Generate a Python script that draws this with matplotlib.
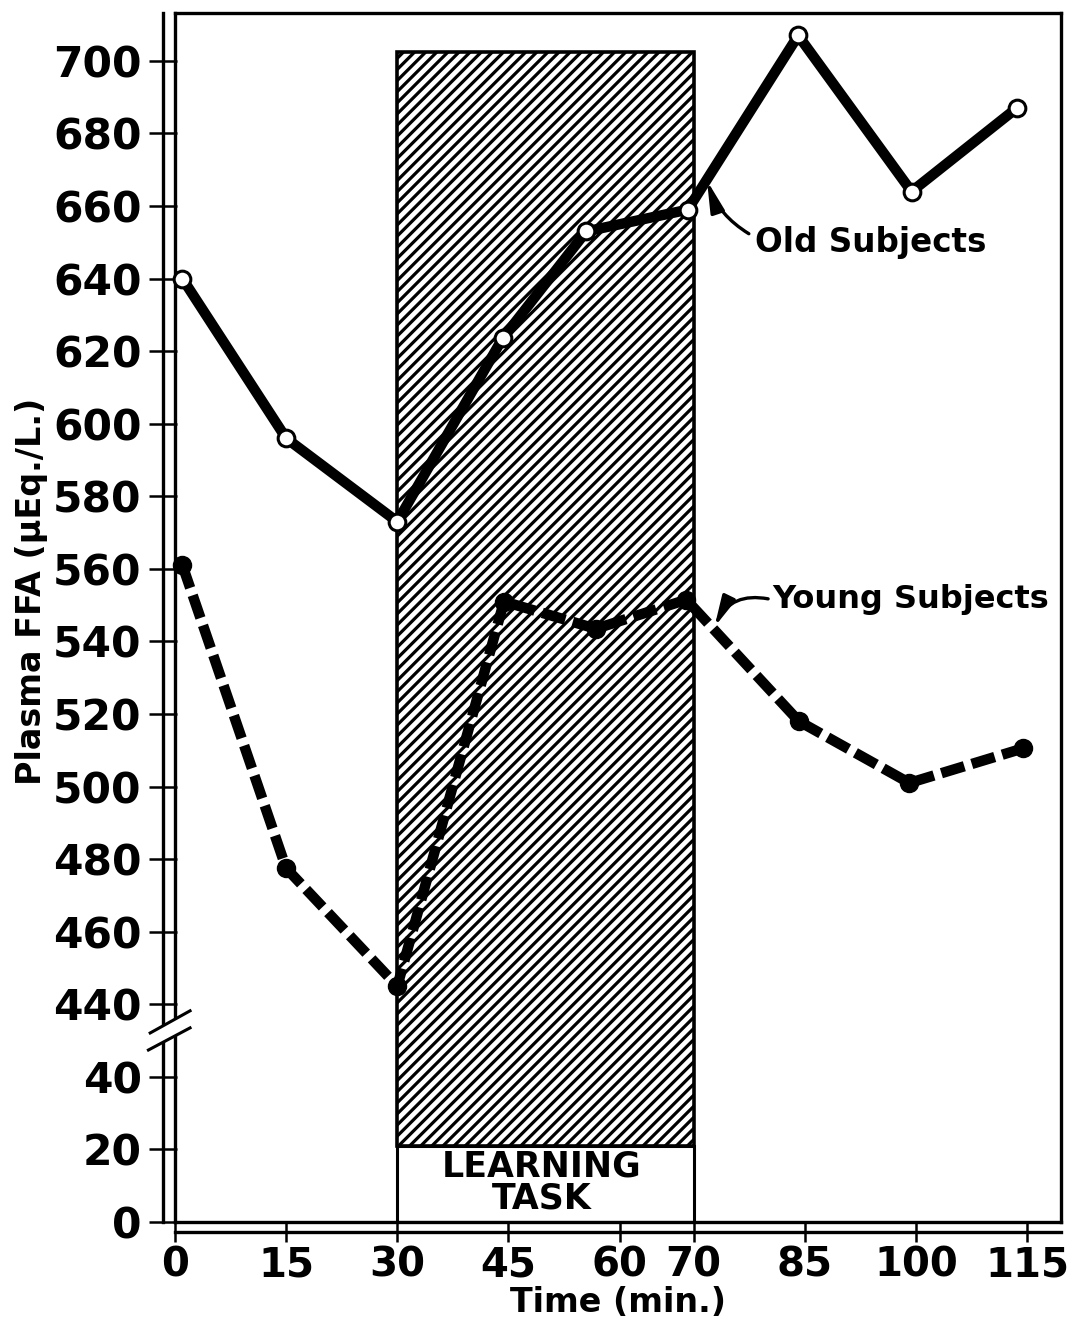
import matplotlib
matplotlib.use("Agg")
import matplotlib.pyplot as plt
from matplotlib.patches import Rectangle, Polygon

# values: time (min.) and plasma FFA (uEq./L.)
old_t = [1, 15, 30, 44.2, 55.5, 69.2, 84.1, 99.4, 113.6]
old_ffa = [640, 596, 573, 623.5, 653, 659, 707, 664, 687]
young_t = [1, 15, 30, 44.4, 56.8, 69, 84.2, 99.1, 114.4]
young_ffa = [561, 477.5, 445, 551, 543.5, 551.5, 518, 501, 510.5]

x_ticks = [0, 15, 30, 45, 60, 70, 85, 100, 115]
y_ticks = [0, 20, 40, 440, 460, 480, 500, 520, 540, 560, 580,
           600, 620, 640, 660, 680, 700]
task_start, task_end = 30, 70
task_top, task_bottom = 702.5, 21

BREAK_LO, BREAK_SHIFT = 40, 380


def fold(v):
    # broken axis: everything above 40 is shifted down by 380
    if isinstance(v, (list, tuple)):
        return [fold(x) for x in v]
    return v if v <= BREAK_LO else v - BREAK_SHIFT


plt.rcParams['hatch.linewidth'] = 2.3
plt.rcParams['font.family'] = 'DejaVu Sans'

fig = plt.figure(figsize=(10.75, 13.25), dpi=100)
ax = fig.add_axes([175 / 1075, 103 / 1325, 885.5 / 1075, 1209 / 1325])
ax.set_xlim(0, 119.5)
ax.set_ylim(0, 333.2)

# learning task block
ax.add_patch(Rectangle((task_start, task_bottom), task_end - task_start,
                       fold(task_top) - task_bottom, facecolor='white',
                       edgecolor='black', hatch='///', lw=2.6, zorder=1))
ax.add_patch(Rectangle((task_start, 0), task_end - task_start, task_bottom,
                       facecolor='white', edgecolor='black', lw=2.2, zorder=1))
ax.text((task_start + task_end) / 2 - 0.5, task_bottom / 2 + 0.5,
        'LEARNING\nTASK', ha='center', va='center', fontsize=25,
        fontweight='bold', linespacing=0.92, zorder=2)

# data
ax.plot(old_t, fold(old_ffa), color='black', lw=7.5, marker='o', ms=12,
        mfc='white', mec='black', mew=2.2, clip_on=False, zorder=5)
ax.plot(young_t, fold(young_ffa), color='black', lw=7.5, dashes=(2.3, 0.75),
        marker='o', ms=13, mfc='black', mec='black', clip_on=False, zorder=5)

# labels with arrows
ax.annotate('Old Subjects', xy=(71.8, fold(667)), xytext=(78.3, fold(650)),
            fontsize=23.5, fontweight='bold', ha='left', va='center',
            arrowprops=dict(arrowstyle='-|>,head_length=0.8,head_width=0.18',
                            color='black', lw=2.4, relpos=(0, 0.65),
                            connectionstyle='arc3,rad=-0.2',
                            shrinkA=3, shrinkB=0), zorder=6)
ax.annotate('Young Subjects', xy=(72.8, fold(544)), xytext=(80.6, fold(551.5)),
            fontsize=23, fontweight='bold', ha='left', va='center',
            arrowprops=dict(arrowstyle='-|>,head_length=0.8,head_width=0.18',
                            color='black', lw=2.4, relpos=(0, 0.5),
                            connectionstyle='arc3,rad=0.4',
                            shrinkA=1, shrinkB=0), zorder=6)

# frame box plus offset axis lines
for s in ['top', 'right', 'left', 'bottom']:
    ax.spines[s].set_linewidth(2.4)
ax.spines['left'].set_position(('outward', 9))
ax.spines['bottom'].set_position(('outward', 7.5))
ax.plot([0, 0], [0, 1], transform=ax.transAxes, color='black', lw=2.4,
        clip_on=False, zorder=3)
ax.plot([0, 1], [0, 0], transform=ax.transAxes, color='black', lw=2.4,
        clip_on=False, zorder=3)

ax.set_xticks(x_ticks)
ax.set_xticklabels([str(t) for t in x_ticks], fontweight='bold')
ax.set_yticks(fold(y_ticks))
ax.set_yticklabels([str(v) for v in y_ticks], fontweight='bold')
ax.tick_params(axis='y', direction='inout', length=20, width=1.8, pad=5,
               labelsize=30.5)
ax.tick_params(axis='x', direction='inout', length=15, width=1.8, pad=2,
               labelsize=29)

ax.set_xlabel('Time (min.)', fontsize=24, fontweight='bold', labelpad=0)
ax.set_ylabel('Plasma FFA (\u03bcEq./L.)', fontsize=24, fontweight='bold')
ax.yaxis.set_label_coords(-0.143, 0.522)

# axis break marks
ytr = ax.get_yaxis_transform()
ax.add_patch(Polygon([(-0.030, 47.4), (0.017, 53.5), (0.017, 58.2),
                      (-0.028, 52.1)], closed=True, transform=ytr,
                     facecolor='white', edgecolor='none', clip_on=False,
                     zorder=6))
ax.plot([-0.028, 0.017], [52.1, 58.2], transform=ytr, color='black', lw=2.2,
        clip_on=False, zorder=7)
ax.plot([-0.030, 0.017], [47.4, 53.5], transform=ytr, color='black', lw=2.2,
        clip_on=False, zorder=7)

fig.savefig('out.png', dpi=100)
